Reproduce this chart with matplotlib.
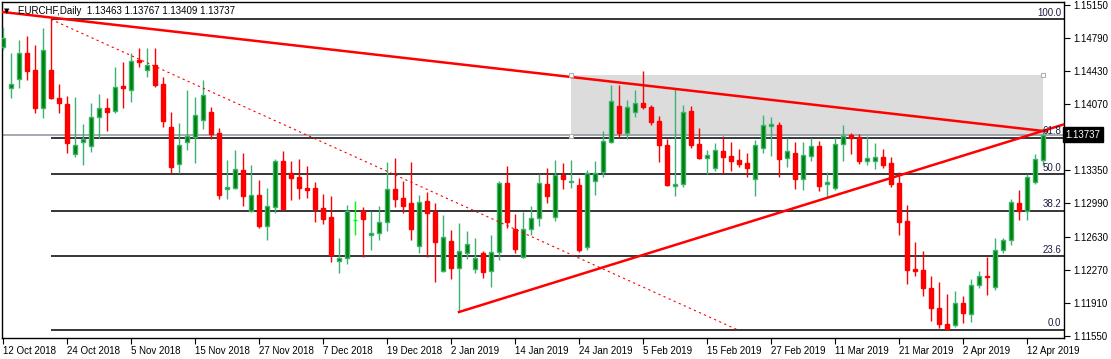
import matplotlib
matplotlib.use('Agg')
import matplotlib.pyplot as plt
from matplotlib.patches import Rectangle
from matplotlib.transforms import blended_transform_factory

plt.rcParams['font.family'] = ['Liberation Sans', 'DejaVu Sans']

# EURCHF daily candles, 12 Oct 2018 .. 16 Apr 2019
opens = [1.14692, 1.14246, 1.14344, 1.14627, 1.14442, 1.14028, 1.14442, 1.14137, 1.14072, 1.13528,
         1.13658, 1.13615, 1.13930, 1.14028, 1.13996, 1.14268, 1.14224, 1.14551, 1.14442, 1.14496,
         1.14290, 1.13821, 1.13419, 1.13658, 1.13713, 1.13898, 1.13985, 1.13756, 1.13147, 1.13157,
         1.13353, 1.12907, 1.13081, 1.12744, 1.12951, 1.13451, 1.13321, 1.13277, 1.13157, 1.13157,
         1.12940, 1.12842, 1.12363, 1.12395, 1.12809, 1.12907, 1.12646, 1.12667, 1.12787, 1.13147,
         1.13049, 1.12994, 1.12526, 1.13016, 1.12896, 1.12254, 1.12580, 1.12287, 1.12450, 1.12276,
         1.12450, 1.12254, 1.12461, 1.13212, 1.12711, 1.12406, 1.12711, 1.12831, 1.13201, 1.12842,
         1.13299, 1.13223, 1.13190, 1.12515, 1.13234, 1.13332, 1.13658, 1.14050, 1.13756, 1.13985,
         1.14083, 1.14039, 1.13887, 1.13625, 1.13179, 1.13201, 1.13996, 1.13636, 1.13484, 1.13375,
         1.13560, 1.13506, 1.13462, 1.13430, 1.13255, 1.13593, 1.13832, 1.13843, 1.13484, 1.13538,
         1.13255, 1.13506, 1.13615, 1.13201, 1.13157, 1.13636, 1.13734, 1.13713, 1.13451, 1.13451,
         1.13495, 1.13430, 1.13212, 1.12798, 1.12276, 1.12265, 1.12069, 1.11851, 1.11677, 1.11666,
         1.11906, 1.11786, 1.12101, 1.12200, 1.12080, 1.12483, 1.12591, 1.12994, 1.12907, 1.13223,
         1.13463]
highs = [1.14910, 1.14627, 1.14769, 1.14812, 1.14714, 1.14899, 1.14994, 1.14290, 1.14159, 1.14148,
         1.13854, 1.14083, 1.14181, 1.14137, 1.14475, 1.14529, 1.14627, 1.14682, 1.14682, 1.14682,
         1.14366, 1.13985, 1.13865, 1.14224, 1.14148, 1.14333, 1.14039, 1.13811, 1.13462, 1.13571,
         1.13538, 1.13408, 1.13245, 1.13157, 1.13473, 1.13560, 1.13451, 1.13473, 1.13397, 1.13223,
         1.13092, 1.13070, 1.12613, 1.12972, 1.13016, 1.12951, 1.12907, 1.12961, 1.13440, 1.13484,
         1.13234, 1.13440, 1.13081, 1.13114, 1.12994, 1.12863, 1.12700, 1.12776, 1.12689, 1.12613,
         1.12472, 1.12646, 1.13234, 1.13397, 1.12874, 1.12896, 1.12961, 1.13310, 1.13375, 1.13462,
         1.13430, 1.13462, 1.13266, 1.13353, 1.13451, 1.13778, 1.14279, 1.14279, 1.14115, 1.14224,
         1.14431, 1.14061, 1.13941, 1.13691, 1.14246, 1.14061, 1.14050, 1.13811, 1.13571, 1.13647,
         1.13724, 1.13658, 1.13582, 1.13538, 1.13680, 1.13952, 1.13930, 1.13876, 1.13702, 1.13658,
         1.13658, 1.13702, 1.13669, 1.13332, 1.13702, 1.13843, 1.13756, 1.13745, 1.13724, 1.13647,
         1.13582, 1.13495, 1.13332, 1.12972, 1.12569, 1.12472, 1.12200, 1.12134, 1.12004, 1.12036,
         1.11982, 1.12167, 1.12254, 1.12406, 1.12613, 1.12613, 1.13038, 1.13136, 1.13310, 1.13528,
         1.13767]
lows = [1.14660, 1.14137, 1.14246, 1.14333, 1.13974, 1.13919, 1.14126, 1.13974, 1.13538, 1.13495,
        1.13408, 1.13549, 1.13702, 1.13778, 1.13974, 1.14028, 1.14094, 1.14475, 1.14366, 1.14257,
        1.13821, 1.13321, 1.13321, 1.13571, 1.13430, 1.13800, 1.13691, 1.13038, 1.13038, 1.13147,
        1.12961, 1.12896, 1.12722, 1.12591, 1.12885, 1.12918, 1.13027, 1.13038, 1.13049, 1.12787,
        1.12765, 1.12352, 1.12232, 1.12330, 1.12646, 1.12406, 1.12483, 1.12591, 1.12689, 1.12951,
        1.12885, 1.12591, 1.12450, 1.12406, 1.12134, 1.12243, 1.12167, 1.11808, 1.12385, 1.12232,
        1.12178, 1.12080, 1.12374, 1.12722, 1.12450, 1.12395, 1.12646, 1.12744, 1.12994, 1.12798,
        1.13147, 1.13157, 1.12461, 1.12483, 1.13081, 1.13277, 1.13647, 1.13713, 1.13691, 1.13930,
        1.14018, 1.13843, 1.13440, 1.13179, 1.13070, 1.13168, 1.13593, 1.13473, 1.13310, 1.13342,
        1.13321, 1.13342, 1.13386, 1.13277, 1.13070, 1.13538, 1.13506, 1.13277, 1.13386, 1.13147,
        1.13136, 1.13451, 1.13125, 1.13059, 1.13136, 1.13451, 1.13528, 1.13419, 1.13408, 1.13364,
        1.13375, 1.13168, 1.12646, 1.12112, 1.12200, 1.11982, 1.11710, 1.11633, 1.11617, 1.11644,
        1.11688, 1.11699, 1.12069, 1.11993, 1.12047, 1.12450, 1.12537, 1.12809, 1.12809, 1.13201,
        1.13409]
closes = [1.14790, 1.14290, 1.14627, 1.14431, 1.14028, 1.14660, 1.14137, 1.14083, 1.13647, 1.13625,
          1.13691, 1.13930, 1.14028, 1.13985, 1.14257, 1.14252, 1.14540, 1.14529, 1.14496, 1.14279,
          1.13887, 1.13386, 1.13625, 1.13724, 1.13952, 1.14170, 1.13745, 1.13081, 1.13168, 1.13364,
          1.13070, 1.13081, 1.12744, 1.12961, 1.13451, 1.12929, 1.13266, 1.13157, 1.13141, 1.12929,
          1.12820, 1.12428, 1.12395, 1.12907, 1.12809, 1.12820, 1.12667, 1.12787, 1.13147, 1.13038,
          1.12961, 1.12711, 1.13005, 1.12885, 1.12569, 1.12624, 1.12287, 1.12472, 1.12548, 1.12395,
          1.12243, 1.12461, 1.13212, 1.12787, 1.12493, 1.12711, 1.12831, 1.13212, 1.13070, 1.13299,
          1.13255, 1.13234, 1.12483, 1.13321, 1.13321, 1.13669, 1.14105, 1.13756, 1.14039, 1.14083,
          1.14039, 1.13876, 1.13625, 1.13190, 1.13201, 1.13985, 1.13625, 1.13484, 1.13517, 1.13571,
          1.13495, 1.13451, 1.13419, 1.13375, 1.13625, 1.13843, 1.13854, 1.13473, 1.13560, 1.13255,
          1.13517, 1.13615, 1.13179, 1.13223, 1.13636, 1.13724, 1.13702, 1.13451, 1.13484, 1.13495,
          1.13408, 1.13201, 1.12787, 1.12265, 1.12254, 1.12069, 1.11851, 1.11677, 1.11622, 1.11906,
          1.11797, 1.12101, 1.12200, 1.12189, 1.12483, 1.12591, 1.13005, 1.12907, 1.13277, 1.13473,
          1.13737]

date_labels = ['12 Oct 2018', '24 Oct 2018', '5 Nov 2018', '15 Nov 2018', '27 Nov 2018',
               '7 Dec 2018', '19 Dec 2018', '2 Jan 2019', '14 Jan 2019', '24 Jan 2019',
               '5 Feb 2019', '15 Feb 2019', '27 Feb 2019', '11 Mar 2019', '21 Mar 2019',
               '2 Apr 2019', '12 Apr 2019']
bars_per_label = 8

price_ticks = [1.15150, 1.14790, 1.14430, 1.14070, 1.13710, 1.13350, 1.12990,
               1.12630, 1.12270, 1.11910, 1.11550]

# fibonacci retracement: anchors (bar, price)
fib_start = (6, 1.14994)
fib_end = (91.75, 1.11617)
fib_levels = [0.0, 23.6, 38.2, 50.0, 61.8, 100.0]

# trendlines (bar, price) pairs
down_trend = ([-0.125, 130.5], [1.15075, 1.13774])
up_trend = ([57, 132.625], [1.11808, 1.13851])

# gray rectangle zone
zone_bars = (71, 130)
zone_prices = (1.13720, 1.14388)

last_price = 1.13737
title = 'EURCHF,Daily  1.13463 1.13767 1.13409 1.13737'

fig = plt.figure(figsize=(11.11, 3.59), dpi=100)
ax = fig.add_axes([2 / 1111, 1 - 338 / 359, 1062 / 1111, 336 / 359])
ax.set_xlim(-0.125, 132.625)
ax.set_ylim(1.11525, 1.15183)

# zone
ax.add_patch(Rectangle((zone_bars[0], zone_prices[0]), zone_bars[1] - zone_bars[0],
                       zone_prices[1] - zone_prices[0], facecolor='#dcdcdc',
                       edgecolor='none', zorder=0))
for bx, py in [(zone_bars[0], zone_prices[1]), (zone_bars[1], zone_prices[1]),
               (zone_bars[0], zone_prices[0])]:
    ax.plot(bx, py, marker='s', ms=3.2, mfc='white', mec='#b0b0b0', mew=0.8, zorder=6)

# fibo levels
hi, lo = fib_start[1], fib_end[1]
for lev in fib_levels:
    p = lo + (hi - lo) * lev / 100.0
    ax.hlines(p, fib_start[0], ax.get_xlim()[1], colors='black', linewidth=1.1, zorder=1)
    ax.text(132.3, p + 0.00018, f'{lev:.1f}', ha='right', va='bottom', fontsize=7,
            color='#1c1c3c', zorder=7)
ax.plot([fib_start[0], fib_end[0]], [fib_start[1], fib_end[1]], color='red',
        linewidth=0.8, linestyle=(0, (2, 3)), zorder=4)

# bid line
ax.axhline(last_price, color='#8a939e', linewidth=1.1, zorder=2)

# candles
for i, (o, h, l, c) in enumerate(zip(opens, highs, lows, closes)):
    if c > o:
        ax.vlines(i, l, h, colors='#3cb371', linewidth=1.0, zorder=3)
        ax.bar(i, c - o, bottom=o, width=0.58, color='#008000', edgecolor='#3cb371',
               linewidth=1.0, zorder=3)
    elif c < o:
        ax.vlines(i, l, h, colors='red', linewidth=1.0, zorder=3)
        ax.bar(i, o - c, bottom=c, width=0.58, color='red', edgecolor='red',
               linewidth=1.0, zorder=3)
    else:
        ax.vlines(i, l, h, colors='lime', linewidth=1.0, zorder=3)
        ax.hlines(o, i - 0.3, i + 0.3, colors='lime', linewidth=1.0, zorder=3)

# trendlines
ax.plot(down_trend[0], down_trend[1], color='red', linewidth=1.8, zorder=5)
ax.plot(up_trend[0], up_trend[1], color='red', linewidth=1.8, zorder=5)

# axes
for s in ax.spines.values():
    s.set_color('black')
    s.set_linewidth(1.0)
ax.yaxis.tick_right()
ax.set_yticks(price_ticks)
# the 1.13710 label sits under the current price tag
ax.set_yticklabels(['' if abs(p - last_price) < 0.0003 else f'{p:.5f}' for p in price_ticks])
ax.tick_params(axis='y', direction='out', length=4, width=0.8, pad=3, labelsize=7)
ax.set_xticks(range(0, len(opens), bars_per_label))
ax.set_xticklabels(date_labels)
for lab in ax.get_xticklabels():
    lab.set_horizontalalignment('left')
ax.tick_params(axis='x', direction='out', length=4, width=0.8, pad=2, labelsize=7)

# current price tag
tr = blended_transform_factory(ax.transAxes, ax.transData)
ax.text(1.0015, last_price, '1.13737', transform=tr, ha='left', va='center', fontsize=7,
        color='white', zorder=8,
        bbox=dict(boxstyle='square,pad=0.25', facecolor='black', edgecolor='black'))

# title
fig.text(4 / 1111, 1 - 11 / 359, '\u25bc', fontsize=5, va='center', ha='left',
         family='DejaVu Sans')
fig.text(18 / 1111, 1 - 11 / 359, title, fontsize=7, va='center', ha='left')

fig.savefig('out.png', dpi=100)
